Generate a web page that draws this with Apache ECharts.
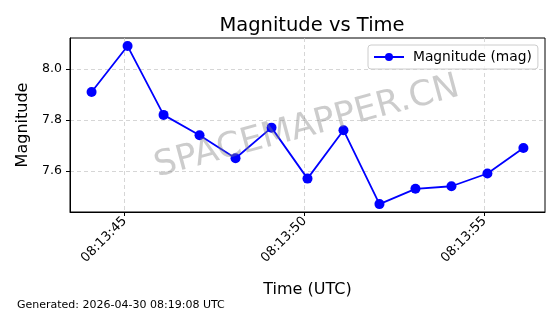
<!DOCTYPE html>
<html><head><meta charset="utf-8">
<script src="https://cdn.jsdelivr.net/npm/echarts@6/dist/echarts.min.js"></script>
<style>html,body{margin:0;padding:0;background:#fff}#c{width:560px;height:314px}</style>
</head><body><div id="c"></div>
<script>
// seconds after 08:13:00 UTC
const timeSeconds = [44.08, 45.08, 46.08, 47.08, 48.08, 49.08, 50.08, 51.08, 52.08, 53.08, 54.08, 55.08, 56.08];
const magnitudes = [7.91, 8.09, 7.82, 7.74, 7.65, 7.77, 7.57, 7.76, 7.47, 7.53, 7.54, 7.59, 7.69];
const xTicks = [45, 50, 55];
const yTicks = [7.6, 7.8, 8.0];
const titleText = 'Magnitude vs Time';
const seriesName = 'Magnitude (mag)';
const footerText = 'Generated: 2026-04-30 08:19:08 UTC';

const F = 'DejaVu Sans';
const pad = n => String(n).padStart(2, '0');
const chart = echarts.init(document.getElementById('c'), null, {renderer: 'canvas'});
chart.setOption({
  animation: false,
  textStyle: {fontFamily: F},
  title: {text: titleText, left: 307, top: 11, textAlign: 'center',
    textStyle: {fontFamily: F, fontSize: 19.5, fontWeight: 'normal', color: '#000'}},
  legend: {left: 368, top: 45, orient: 'horizontal', itemWidth: 30, itemHeight: 10,
    padding: [5, 6, 5, 5], borderColor: '#ccc', borderWidth: 1, borderRadius: 3,
    backgroundColor: 'rgba(255,255,255,0.8)',
    textStyle: {fontFamily: F, fontSize: 13.8, color: '#000', padding: [0, 0, 0, 4]},
    data: [seriesName]},
  grid: {left: 70, right: 15, top: 38, bottom: 102, show: true, borderColor: '#000', borderWidth: 1, containLabel: false},
  xAxis: {type: 'value', min: 43.48, max: 56.68,
    name: 'Time (UTC)', nameLocation: 'middle', nameGap: 70,
    nameTextStyle: {fontFamily: F, fontSize: 16, color: '#000'},
    axisLine: {show: true, lineStyle: {color: '#000'}},
    axisTick: {show: true, length: 4, lineStyle: {color: '#000'}, customValues: xTicks},
    axisLabel: {customValues: xTicks, rotate: 45, fontSize: 13, color: '#000', fontFamily: F, margin: 7,
      formatter: v => '08:13:' + pad(Math.round(v))},
    splitLine: {show: true, lineStyle: {color: '#ccc', type: [4, 3], width: 0.8}}},
  yAxis: {type: 'value', min: 7.439, max: 8.1216,
    name: 'Magnitude', nameLocation: 'middle', nameGap: 38, nameRotate: 90,
    nameTextStyle: {fontFamily: F, fontSize: 16, color: '#000'},
    axisLine: {show: true, lineStyle: {color: '#000'}},
    axisTick: {show: true, length: 4, lineStyle: {color: '#000'}, customValues: yTicks},
    axisLabel: {customValues: yTicks, fontSize: 12.5, color: '#000', fontFamily: F, margin: 8,
      formatter: v => v.toFixed(1)},
    splitLine: {show: true, lineStyle: {color: '#ccc', type: [4, 3], width: 0.8}}},
  graphic: [
    {type: 'text', left: 17, top: 300, style: {text: footerText, font: '11px "DejaVu Sans"', fill: '#000'}},
    {type: 'text', x: 307, y: 127, rotation: 15 * Math.PI / 180, z: 100,
      style: {text: 'SPACEMAPPER.CN', font: '35px "DejaVu Sans"', fill: 'rgba(128,128,128,0.4)', align: 'center', verticalAlign: 'middle'}}
  ],
  series: [{
    name: seriesName, type: 'line',
    data: timeSeconds.map((t, i) => [t, magnitudes[i]]),
    symbol: 'circle', symbolSize: 10,
    lineStyle: {color: '#0000ff', width: 1.8},
    itemStyle: {color: '#0000ff'}
  }]
});
</script></body></html>
